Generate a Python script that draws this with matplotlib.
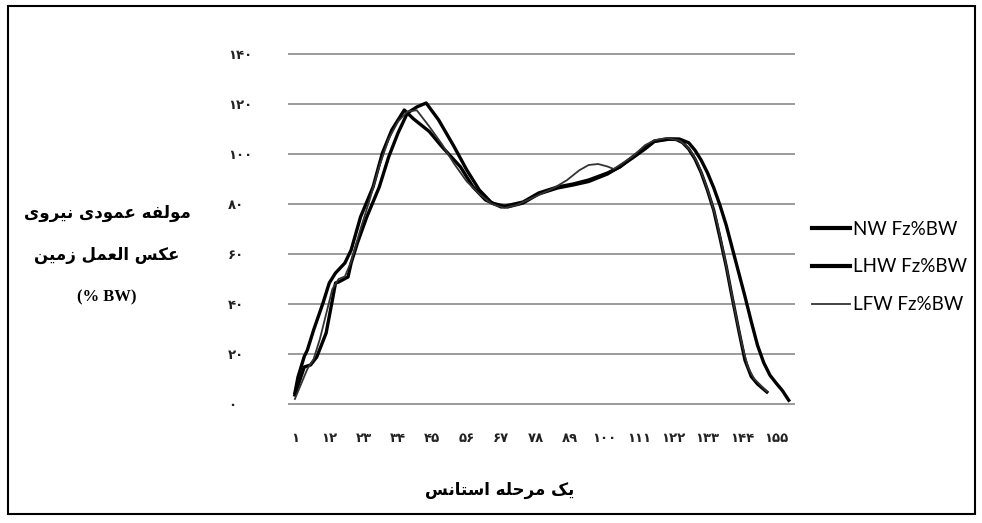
import matplotlib
matplotlib.use('Agg')
import matplotlib.pyplot as plt
from matplotlib.patches import Rectangle

# stance phase samples (index) and vertical GRF in %BW
nw_x = [1, 2, 4, 5, 7, 10, 12, 14, 17, 19, 22, 26, 29, 32, 36, 39, 44, 48, 54, 58,
        62, 67, 74, 79, 85, 90, 95, 101, 105, 109, 113, 116, 120, 123, 125, 127, 129, 131, 133, 135,
        137, 139, 141, 143, 145, 147, 149, 152]
nw_y = [4.4, 10.8, 19, 21.6, 29.6, 40.4, 48.4, 52.4, 56.4, 61.6, 74.8, 86.8, 100.4, 109.6, 117.6, 114, 109, 103, 94.8, 86.8,
        81.6, 78.8, 80.8, 84.4, 86.8, 88, 89.6, 92.4, 94.8, 98.8, 102.4, 105.2, 106, 105.8, 104.6, 102, 98, 92.5, 85.5, 77.5,
        66.5, 55, 42, 29.5, 17.5, 11, 8, 4.8]

lhw_x = [1, 4, 6, 8, 11, 13, 14, 15, 18, 19, 21, 24, 28, 31, 34, 37, 40, 43, 45, 47,
         52, 56, 60, 64, 69, 74, 79, 85, 90, 95, 101, 105, 109, 113, 116, 121, 124, 127, 129, 131,
         133, 135, 137, 139, 141, 143, 145, 147, 149, 151, 153, 155, 157, 159]
lhw_y = [3.6, 14.8, 15.6, 18.8, 28.4, 41.6, 48.4, 48.8, 50.8, 56.4, 64.4, 74.8, 86.8, 98.8, 108.4, 116.4, 118.8, 120.4, 117, 113.6,
         102.8, 93.6, 85.6, 80.4, 78.8, 80.4, 84, 86.4, 87.6, 89, 92, 95, 98.4, 102, 105, 106, 106, 104.5, 101.5, 97.5,
         92.5, 86.5, 79.5, 71.5, 62, 52.5, 43, 33, 23.5, 16.5, 11.5, 8.3, 5.3, 1.5]

lfw_x = [1, 3, 5, 7, 9, 11, 13, 15, 17, 19, 22, 25, 28, 31, 34, 37, 40, 44, 48, 52,
         56, 60, 64, 68, 72, 78, 84, 88, 92, 95, 98, 101, 103, 106, 109, 113, 116, 120, 124, 126,
         128, 130, 132, 134, 136, 138, 140, 142, 144, 146, 148, 150, 152]
lfw_y = [2, 8, 14, 18, 26, 36, 46, 50, 51, 57, 70, 82, 95, 106, 113, 117, 117.5, 111, 104, 96,
         89, 84, 80, 78.4, 79.6, 83, 86.5, 89.5, 93.5, 95.6, 96, 95, 94, 96.5, 99, 103.5, 105.5, 106.4, 105.4, 103.5,
         100.5, 96, 89.5, 82, 73, 61.5, 49, 36, 24, 14.5, 10, 7.5, 5]

x_ticks = [1, 12, 23, 34, 45, 56, 67, 78, 89, 100, 111, 122, 133, 144, 155]
x_labels = ['۱', '۱۲', '۲۳', '۳۴', '۴۵', '۵۶', '۶۷', '۷۸', '۸۹', '۱۰۰', '۱۱۱', '۱۲۲', '۱۳۳', '۱۴۴', '۱۵۵']
y_ticks = [0, 20, 40, 60, 80, 100, 120, 140]
y_labels = ['۰', '۲۰', '۴۰', '۶۰', '۸۰', '۱۰۰', '۱۲۰', '۱۴۰']

# no shaping engine in matplotlib -> pick presentation forms by hand
FORMS = {
    'ا': ('\uFE8D', '\uFE8E', None, None),
    'ت': ('\uFE95', '\uFE96', '\uFE97', '\uFE98'),
    'ح': ('\uFEA1', '\uFEA2', '\uFEA3', '\uFEA4'),
    'د': ('\uFEA9', '\uFEAA', None, None),
    'ر': ('\uFEAD', '\uFEAE', None, None),
    'ز': ('\uFEAF', '\uFEB0', None, None),
    'س': ('\uFEB1', '\uFEB2', '\uFEB3', '\uFEB4'),
    'ع': ('\uFEC9', '\uFECA', '\uFECB', '\uFECC'),
    'ف': ('\uFED1', '\uFED2', '\uFED3', '\uFED4'),
    'ل': ('\uFEDD', '\uFEDE', '\uFEDF', '\uFEE0'),
    'م': ('\uFEE1', '\uFEE2', '\uFEE3', '\uFEE4'),
    'ن': ('\uFEE5', '\uFEE6', '\uFEE7', '\uFEE8'),
    'ه': ('\uFEE9', '\uFEEA', '\uFEEB', '\uFEEC'),
    'و': ('\uFEED', '\uFEEE', None, None),
    'ی': ('\uFBFC', '\uFBFD', '\uFBFE', '\uFBFF'),
    'ک': ('\uFB8E', '\uFB8F', '\uFB90', '\uFB91'),
}


def fa(text):
    out = []
    for i, c in enumerate(text):
        if c not in FORMS:
            out.append(c)
            continue
        iso, fin, ini, med = FORMS[c]
        prev = text[i - 1] if i > 0 else ''
        nxt = text[i + 1] if i < len(text) - 1 else ''
        jp = prev in FORMS and FORMS[prev][2] is not None
        jn = nxt in FORMS and ini is not None
        if jp and jn:
            out.append(med)
        elif jp:
            out.append(fin)
        elif jn:
            out.append(ini)
        else:
            out.append(iso)
    return ''.join(reversed(out))


fig = plt.figure(figsize=(9.82, 5.23), dpi=100)
ax = fig.add_axes([288 / 982, 1 - 406.5 / 523, 507 / 982, 355 / 523])

ax.plot(nw_x, nw_y, color='black', lw=2.4, solid_joinstyle='round', label='NW Fz%BW', zorder=3)
ax.plot(lhw_x, lhw_y, color='black', lw=2.4, solid_joinstyle='round', label='LHW Fz%BW', zorder=3)
ax.plot(lfw_x, lfw_y, color='#333333', lw=1.3, solid_joinstyle='round', label='LFW Fz%BW', zorder=4)

ax.set_xlim(-1.2, 161)
ax.set_ylim(-1, 141)
ax.set_yticks(y_ticks)
ax.set_yticklabels(y_labels, fontsize=9.5, fontweight='bold', color='#222222', ha='left')
ax.set_xticks(x_ticks)
ax.set_xticklabels(x_labels, fontsize=9.5, fontweight='bold', color='#222222')
ax.tick_params(axis='y', length=0, pad=43)
ax.tick_params(axis='x', length=0, pad=18)
ax.grid(axis='y', color='#8a8a8a', lw=1.2)
ax.set_axisbelow(True)
for s in ax.spines.values():
    s.set_visible(False)

fig.text(0.109, 0.593, fa('مولفه عمودی نیروی'), ha='center', va='center',
         fontsize=12, fontweight='bold')
fig.text(0.109, 0.512, fa('عکس العمل زمین'), ha='center', va='center',
         fontsize=12, fontweight='bold')
fig.text(0.109, 0.432, '(% BW)', ha='center', va='center',
         fontsize=12, fontweight='bold', family='Liberation Serif')
fig.text(0.509, 0.063, fa('یک مرحله استانس'), ha='center', va='center',
         fontsize=12, fontweight='bold')

leg = ax.legend(loc='center left', bbox_to_anchor=(795 / 982, 1 - 267 / 523),
                bbox_transform=fig.transFigure, frameon=False,
                prop={'family': 'Lato', 'size': 13.5}, handlelength=2.05,
                handletextpad=0.15, labelspacing=1.1)
for h in leg.get_lines()[:2]:
    h.set_linewidth(3)

fig.patches.append(Rectangle((0.008, 0.017), 0.985, 0.972, transform=fig.transFigure,
                             fill=False, ec='black', lw=1.5))

fig.savefig('out.png', dpi=100)
